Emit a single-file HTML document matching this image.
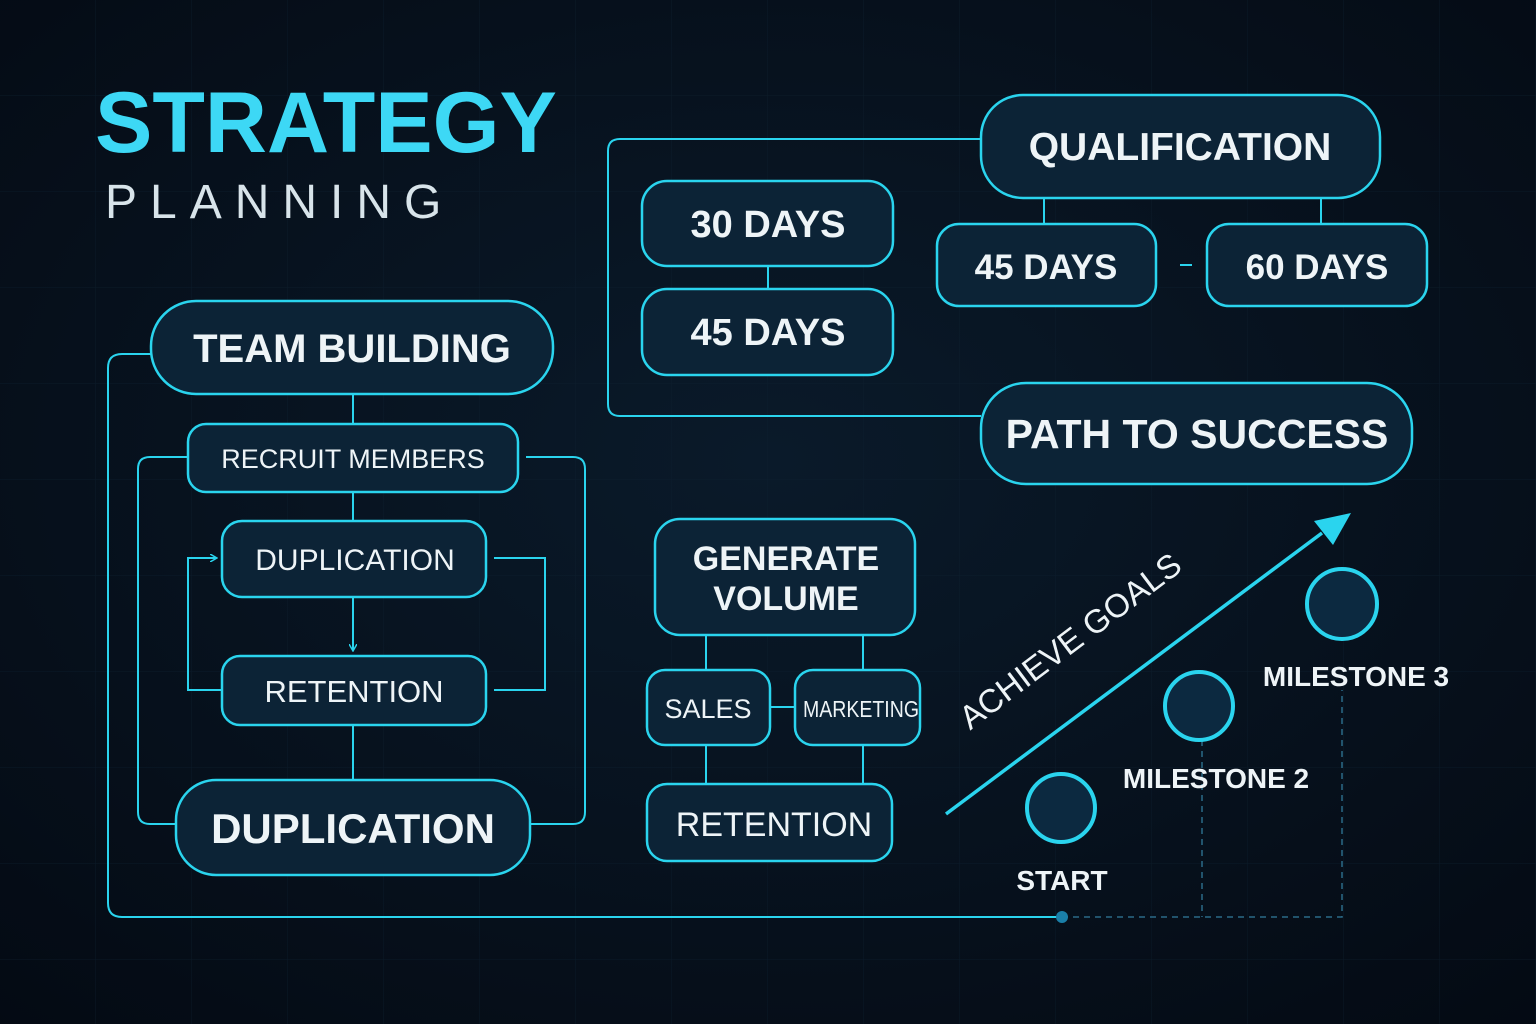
<!DOCTYPE html>
<html><head><meta charset="utf-8"><style>
html,body{margin:0;padding:0;background:#050c16;}
svg{display:block}
text{font-family:"Liberation Sans","DejaVu Sans",sans-serif;}
</style></head><body>
<svg width="1536" height="1024" viewBox="0 0 1536 1024" xmlns="http://www.w3.org/2000/svg">
<defs>
<radialGradient id="bg" cx="50%" cy="45%" r="75%">
<stop offset="0" stop-color="#0a1a2a"/><stop offset="1" stop-color="#040a13"/>
</radialGradient>
<pattern id="grid" width="96" height="96" patternUnits="userSpaceOnUse">
<path d="M96 0V96M0 96H96" stroke="#0f2232" stroke-width="1" fill="none"/>
</pattern>
<marker id="ah" markerWidth="8" markerHeight="8" refX="6" refY="4" orient="auto" markerUnits="userSpaceOnUse"><path d="M0 0L7 4L0 8" fill="none" stroke="#2ad4ee" stroke-width="1.5"/></marker>
</defs>
<rect width="1536" height="1024" fill="url(#bg)"/>
<rect width="1536" height="1024" fill="url(#grid)" opacity="0.6"/>

<text x="95" y="152" font-size="86" font-weight="bold" fill="#3dd8f5">STRATEGY</text>
<text x="105" y="218" font-size="48" letter-spacing="13" fill="#d8e4ea">PLANNING</text>

<g fill="none" stroke="#2ad4ee" stroke-width="2">
<path d="M151 354H122Q108 354 108 368V903Q108 917 122 917H1062"/>
<path d="M188 457H150Q138 457 138 469V812Q138 824 150 824H176"/>
<path d="M526 457H573Q585 457 585 469V812Q585 824 573 824H530"/>
<path d="M222 690H188V558H216" marker-end="url(#ah)"/>
<path d="M494 558H545V690H494"/>
<path d="M353 394V424M353 492V521M353 725V780"/>
<path d="M353 597V650" marker-end="url(#ah)"/>
<path d="M981 139H620Q608 139 608 151V404Q608 416 620 416H981"/>
<path d="M768 266V289M1044 198V224M1321 198V224M1180 265H1192"/>
<path d="M706 635V670M863 635V670M770 707H795M706 745V784M863 745V784"/>
</g>
<g fill="none" stroke="#2a6a88" stroke-width="1.5" stroke-dasharray="6 5">
<path d="M1062 917H1342V690M1202 740V917"/>
</g>
<circle cx="1062" cy="917" r="6" fill="#1a7fa8"/>

<g fill="#0c2336" stroke="#2ad4ee" stroke-width="2.5">
<rect x="151" y="301" width="402" height="93" rx="45"/>
<rect x="188" y="424" width="330" height="68" rx="18"/>
<rect x="222" y="521" width="264" height="76" rx="20"/>
<rect x="222" y="656" width="264" height="69" rx="18"/>
<rect x="176" y="780" width="354" height="95" rx="40"/>
<rect x="642" y="181" width="251" height="85" rx="25"/>
<rect x="642" y="289" width="251" height="86" rx="25"/>
<rect x="981" y="95" width="399" height="103" rx="42"/>
<rect x="937" y="224" width="219" height="82" rx="22"/>
<rect x="1207" y="224" width="220" height="82" rx="22"/>
<rect x="981" y="383" width="431" height="101" rx="45"/>
<rect x="655" y="519" width="260" height="116" rx="25"/>
<rect x="647" y="670" width="123" height="75" rx="18"/>
<rect x="795" y="670" width="125" height="75" rx="18"/>
<rect x="647" y="784" width="245" height="77" rx="20"/>
</g>
<g fill="#0c2940" stroke="#2ad4ee" stroke-width="4">
<circle cx="1061" cy="808" r="34"/>
<circle cx="1199" cy="706" r="34"/>
<circle cx="1342" cy="604" r="35"/>
</g>

<line x1="946" y1="814" x2="1322" y2="533" stroke="#2ad4ee" stroke-width="3.5"/>
<path d="M1351 513L1314 521L1333 545Z" fill="#2ad4ee"/>

<g fill="#eef4f7" font-weight="bold" text-anchor="middle">
<text x="352" y="362" font-size="40">TEAM BUILDING</text>
<text x="353" y="468" font-size="27" font-weight="normal">RECRUIT MEMBERS</text>
<text x="355" y="570" font-size="30" font-weight="normal">DUPLICATION</text>
<text x="354" y="702" font-size="31" font-weight="normal">RETENTION</text>
<text x="353" y="843" font-size="42">DUPLICATION</text>
<text x="768" y="237" font-size="38">30 DAYS</text>
<text x="768" y="345" font-size="38">45 DAYS</text>
<text x="1180" y="160" font-size="39">QUALIFICATION</text>
<text x="1046" y="279" font-size="35">45 DAYS</text>
<text x="1317" y="279" font-size="35">60 DAYS</text>
<text x="1197" y="448" font-size="41">PATH TO SUCCESS</text>
<text x="786" y="570" font-size="34">GENERATE</text>
<text x="786" y="610" font-size="34">VOLUME</text>
<text x="708" y="718" font-size="27" font-weight="normal">SALES</text>
<text x="861" y="717" font-size="23" font-weight="normal" textLength="116" lengthAdjust="spacingAndGlyphs">MARKETING</text>
<text x="774" y="836" font-size="34" font-weight="normal">RETENTION</text>
<text x="1062" y="890" font-size="28">START</text>
<text x="1216" y="788" font-size="28">MILESTONE 2</text>
<text x="1356" y="686" font-size="28">MILESTONE 3</text>
<text x="1077" y="650" font-size="33" font-weight="normal" transform="rotate(-37 1077 650)">ACHIEVE GOALS</text>
</g>
</svg>
</body></html>
